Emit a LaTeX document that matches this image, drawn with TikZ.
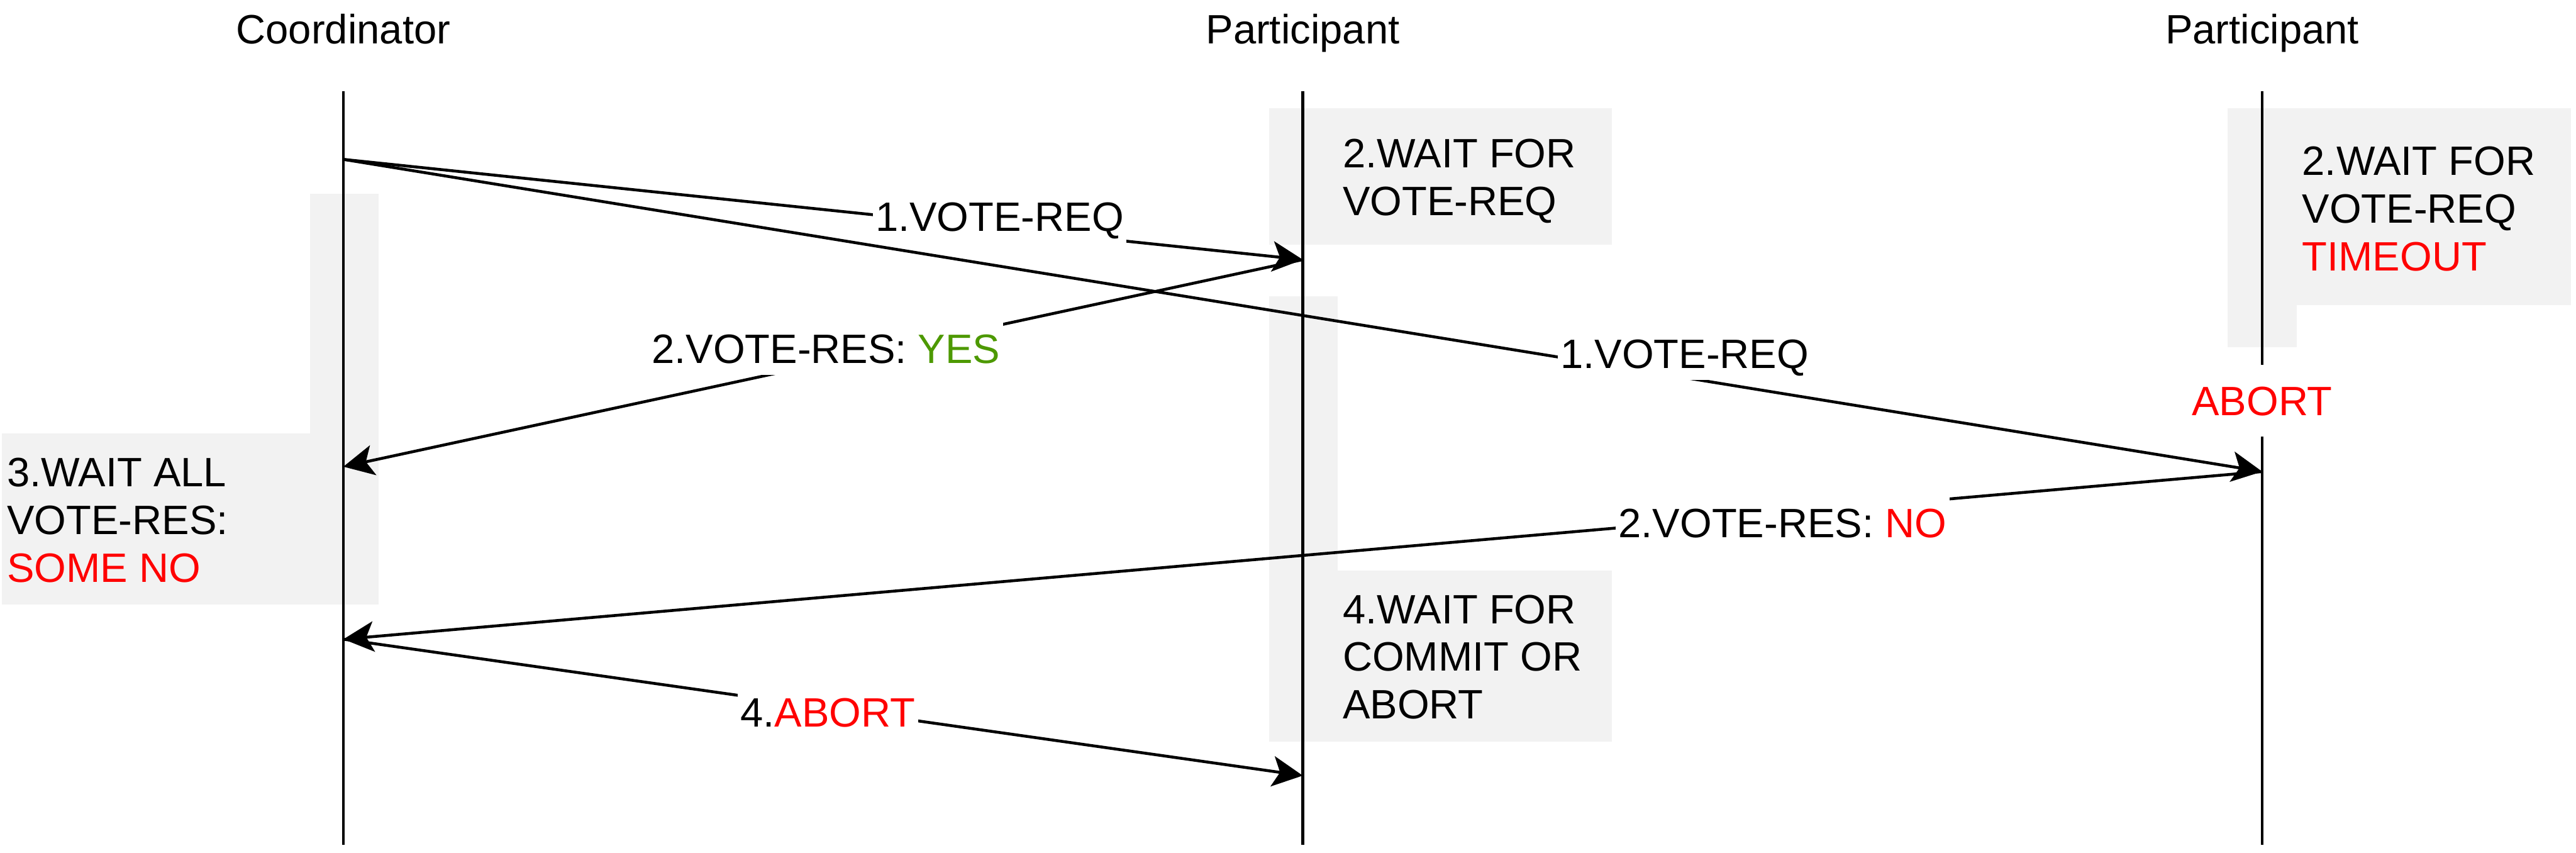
\documentclass[tikz,border=0pt]{standalone}
\usepackage{fontspec}
\setmainfont{Liberation Sans}
\usetikzlibrary{arrows.meta}
\definecolor{stategray}{HTML}{F2F2F2}
\definecolor{yesgreen}{HTML}{4D9900}
\definecolor{abortred}{HTML}{FF0000}

\begin{document}
\begin{tikzpicture}[x=0.02cm, y=-0.02cm,
  every node/.style={font=\fontsize{14.2}{16.55}\selectfont},
  header/.style={inner sep=0pt, text height=10.2pt, text depth=0pt},
  lifeline/.style={line width=1pt},
  msg/.style={line width=1pt, -{Stealth[length=0.37cm, width=0.37cm, inset=0.09cm]}},
  lbl/.style={fill=white, inner xsep=1pt, inner ysep=4pt, text height=10.2pt, text depth=0pt},
  statebox/.style={fill=stategray},
  statetext/.style={anchor=north west, inner sep=0pt, align=left}]
	\useasboundingbox (0,0) rectangle (1568,519);
	% state boxes
	\fill[statebox] (188.8,117.9) rectangle (230.3,263.8);
	\fill[statebox] (1.1,263.8) rectangle (230.3,367.7);
	\fill[statebox] (772.6,65.7) rectangle (981.1,148.9);
	\fill[statebox] (772.6,180.5) rectangle (814.3,347.1);
	\fill[statebox] (772.6,347.1) rectangle (981.1,451.4);
	\fill[statebox] (1356,65.9) rectangle (1565,185.8);
	\fill[statebox] (1356,185.8) rectangle (1398,211.2);
	% state texts
	\node[statetext] (wait-all) at (4,278.3) {3.WAIT ALL\\VOTE-RES:\\\textcolor{abortred}{SOME NO}};
	\node[statetext] (wait-req1) at (817,84.2) {2.WAIT FOR\\VOTE-REQ};
	\node[statetext] (wait-commit) at (817,361.6) {4.WAIT FOR\\COMMIT OR\\ABORT};
	\node[statetext] (wait-req2) at (1401,89) {2.WAIT FOR\\VOTE-REQ\\\textcolor{abortred}{TIMEOUT}};
	% headers
	\node[header] (coord) at (209,17.5) {Coordinator};
	\node[header] (part1) at (793,17.5) {Participant};
	\node[header] (part2) at (1377,17.5) {Participant};
	% lifelines
	\coordinate (c-top) at (209,55.5);
	\coordinate (c-bot) at (209,514);
	\coordinate (p1-top) at (793,55.5);
	\coordinate (p1-bot) at (793,514);
	\coordinate (p2-top) at (1377,55.5);
	\coordinate (p2-bot) at (1377,514);
	\draw[lifeline] (c-top) -- (c-bot);
	\draw[lifeline] (p1-top) -- (p1-bot);
	% second participant, cut by its abort
	\node[header, inner ysep=7.1pt] (p2-abort) at (1377,244) {\textcolor{abortred}{ABORT}};
	\draw[lifeline] (p2-top) -- (p2-abort.north);
	\draw[lifeline] (p2-abort.south) -- (p2-bot);
	% message points
	\coordinate (c-req) at (209,97);
	\coordinate (p1-req) at (793,158);
	\coordinate (p2-req) at (1377,287);
	\coordinate (c-yes) at (209,284);
	\coordinate (c-no) at (209,389);
	\coordinate (p1-abort) at (793,472);
	% vote requests
	\draw[msg] (c-req) -- node[lbl, pos=0.684, yshift=0.14cm] (req1) {1.VOTE-REQ} (p1-req);
	\draw[msg] (c-req) -- node[lbl, pos=0.699, yshift=0.29cm] (req2) {1.VOTE-REQ} (p2-req);
	% vote results
	\draw[msg] (p1-req) -- node[lbl, pos=0.497, yshift=0.17cm] (res-yes) {2.VOTE-RES: \textcolor{yesgreen}{YES}} (c-yes);
	\draw[msg] (p2-req) -- node[lbl, pos=0.25, yshift=-0.11cm] (res-no) {2.VOTE-RES: \textcolor{abortred}{NO}} (c-no);
	% global abort
	\draw[msg] (c-no) -- node[lbl, pos=0.505, yshift=-0.05cm] (abort-msg) {4.\textcolor{abortred}{ABORT}} (p1-abort);
\end{tikzpicture}
\end{document}
